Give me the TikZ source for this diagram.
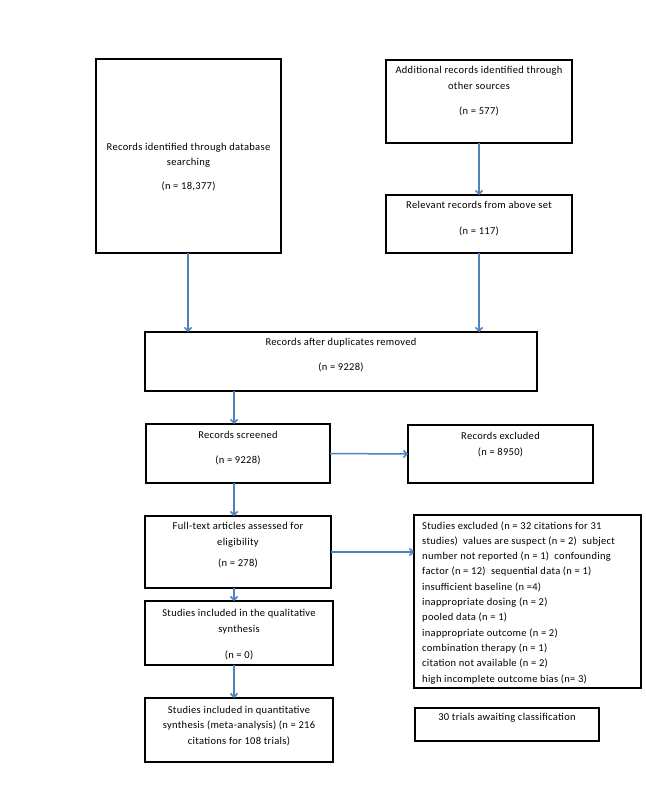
\documentclass[tikz,border=0pt]{standalone}
\usepackage{fontspec}
\setmainfont{Carlito}[LetterSpace=3]
\usetikzlibrary{arrows.meta}
\definecolor{arrowblue}{RGB}{79,129,189}
\tikzset{
  box/.style={draw=black, line width=1.5pt, inner sep=0pt, outer sep=0pt},
  txt/.style={font=\fontsize{10.5}{15.5}\selectfont, align=center, inner sep=0pt, anchor=base},
  ltxt/.style={font=\fontsize{10.5}{15.3}\selectfont, align=left, inner sep=0pt, anchor=base west},
  conn/.style={draw=arrowblue, line width=1.5pt, -{Straight Barb[length=3.5pt,width=7pt]}}
}
\begin{document}
\begin{tikzpicture}[x=1pt,y=-1pt]
\useasboundingbox (0,0) rectangle (645,786);
% boxes
\node[box, minimum width=185pt, minimum height=194pt] (db) at (188.5,156) {};
\node[box, minimum width=186pt, minimum height=83pt] (add) at (479,101.5) {};
\node[box, minimum width=186pt, minimum height=58pt] (rel) at (479,224) {};
\node[box, minimum width=392pt, minimum height=59pt] (dup) at (341,361.5) {};
\node[box, minimum width=184pt, minimum height=59pt] (scr) at (238,453.5) {};
\node[box, minimum width=185pt, minimum height=58pt] (excl) at (500.5,454) {};
\node[box, minimum width=186pt, minimum height=72pt] (ft) at (238,552) {};
\node[box, minimum width=227pt, minimum height=173pt] (se) at (527.5,601.5) {};
\node[box, minimum width=188pt, minimum height=64pt] (qual) at (239,633) {};
\node[box, minimum width=188pt, minimum height=64pt] (quant) at (239,730) {};
\node[box, minimum width=184pt, minimum height=33pt] (trials) at (507,724.5) {};
% texts (anchored at the baseline of their last line)
\node[txt] (tdb) at (188.5,190) {Records identified through database\\searching\\[8.5pt](n = 18,377)};
\node[txt] (tadd) at (479,115) {Additional records identified through\\other sources\\[10pt](n = 577)};
\node[txt] (trel) at (479,234) {Relevant records from above set\\[9.5pt](n = 117)};
\node[txt] (tdup) at (341,370) {Records after duplicates removed\\[9.5pt](n = 9228)};
\node[txt] (tscr) at (238,463) {Records screened\\[9.5pt](n = 9228)};
\node[txt] (texcl) at (500.5,455) {Records excluded\\[0.5pt](n = 8950)};
\node[txt] (tft) at (238,566) {Full-text articles assessed for\\eligibility\\[5.5pt](n = 278)};
\node[ltxt] (tse) at (422,682) {Studies excluded (n = 32 citations for 31\\studies)\ \ values are suspect (n = 2)\ \ subject\\number not reported (n = 1)\ \ confounding\\factor (n = 12)\ \ sequential data (n = 1)\\insufficient baseline (n =4)\\inappropriate dosing (n = 2)\\pooled data (n = 1)\\inappropriate outcome (n = 2)\\combination therapy (n = 1)\\citation not available (n = 2)\\high incomplete outcome bias (n= 3)};
\node[txt] (tqual) at (239,658) {Studies included in the qualitative\\synthesis\\[10.5pt](n = 0)};
\node[txt] (tquant) at (239,744) {Studies included in quantitative\\synthesis (meta-analysis) (n = 216\\citations for 108 trials)};
\node[txt] (ttrials) at (507,720) {30 trials awaiting classification};
% columns for the vertical arrows
\coordinate (ax) at (234,0);
\coordinate (dbx) at (188,0);
% connectors
\draw[conn] (db.south -| dbx) -- (dup.north -| dbx);
\draw[conn] (add.south) -- (rel.north);
\draw[conn] (rel.south) -- (rel.south |- dup.north);
\draw[conn] (dup.south -| ax) -- (scr.north -| ax);
\draw[conn] (scr.east) -- (excl.west);
\draw[conn] (scr.south -| ax) -- (ft.north -| ax);
\draw[conn] (ft.east) -- (se.west |- ft.east);
\draw[conn] (ft.south -| ax) -- (qual.north -| ax);
\draw[conn] (qual.south -| ax) -- (quant.north -| ax);
\end{tikzpicture}
\end{document}
